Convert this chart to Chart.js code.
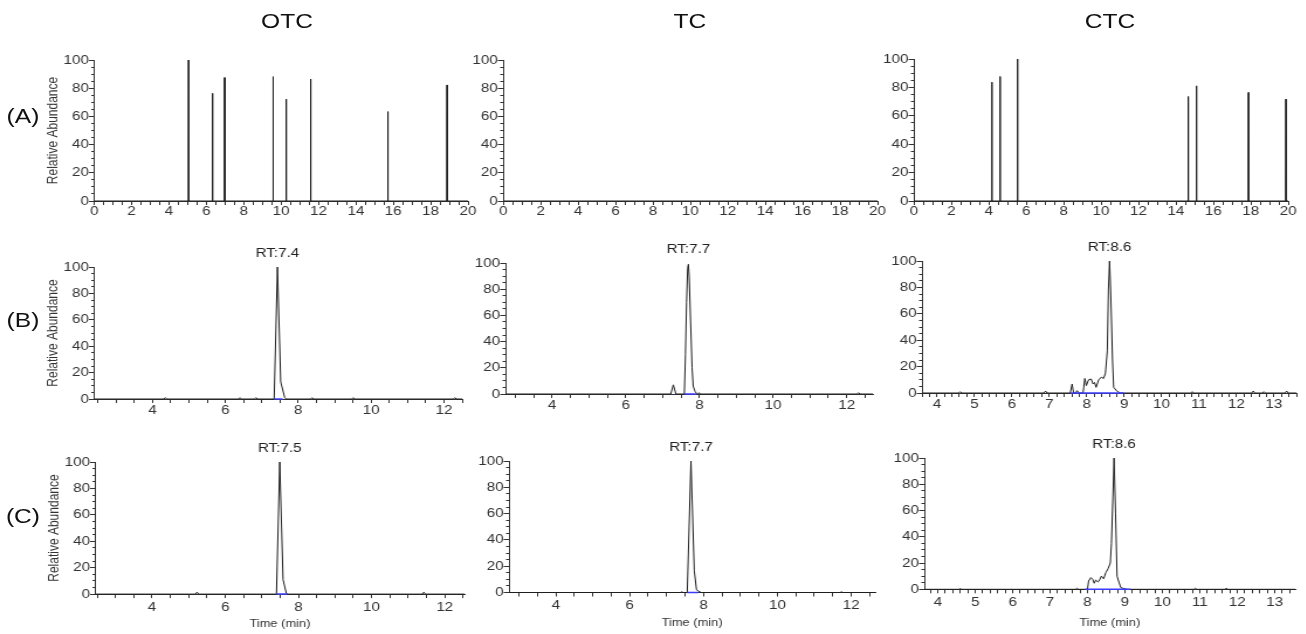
<!doctype html>
<html lang="en">
<head>
<meta charset="utf-8">
<title>OTC / TC / CTC chromatograms</title>
<script src="https://cdn.jsdelivr.net/npm/chart.js/dist/chart.umd.min.js"></script>
<style>
  html, body { margin: 0; background: #fff; }
  /* the source figure is a little wider than tall in its lettering, so the page is stretched */
  #page {
    position: relative; width: 1117px; height: 634px;
    transform: scaleX(1.17); transform-origin: 0 0;
    font-family: "Liberation Sans", Arial, sans-serif; color: #111;
  }
  .lbl { position: absolute; transform: translate(-50%, -50%); white-space: nowrap; font-size: 21px; }
  canvas { position: absolute; }
</style>
</head>
<body>
<div id="page"></div>
<script>
// ---------- data ----------
const columns = ['OTC', 'TC', 'CTC'];
const rows = ['(A)', '(B)', '(C)'];

// (A) full-scan peaks: apex time (min) and relative abundance
const otcScanRt = [5.05, 6.33, 6.98, 9.57, 10.27, 11.58, 15.71, 18.88];
const otcScanAb = [100, 76.4, 87.5, 88.2, 72.3, 86.5, 63.4, 82.3];
const tcScanRt = [];
const tcScanAb = [];
const ctcScanRt = [4.17, 4.61, 5.54, 14.66, 15.10, 17.88, 19.88];
const ctcScanAb = [83.7, 87.7, 100, 73.6, 81.1, 76.4, 71.7];

// (B) chromatograms
const otcB_t  = [2.40, 4.31, 4.35, 4.39, 6.36, 6.40, 6.44, 6.80, 6.84, 6.88, 7.34, 7.43, 7.52, 7.63, 7.67, 8.34, 8.38, 8.42, 9.47, 9.51, 9.55, 12.26, 12.30, 12.34, 12.50];
const otcB_ab = [0, 0, 1, 0, 0, 1, 0, 0, 1, 0, 0, 100, 12.9, 1, 0, 0, 1, 0, 0, 1, 0, 0, 1, 0, 0];
const tcB_t   = [2.73, 7.22, 7.29, 7.36, 7.59, 7.62, 7.65, 7.68, 7.70, 7.72, 7.76, 7.80, 7.83, 7.88, 7.92, 7.96, 7.99, 8.02, 12.28, 12.32, 12.36, 12.71];
const tcB_ab  = [0, 0, 7, 0, 0, 30, 70, 96, 99, 90, 55, 20, 6, 2, 0.5, 0, 1, 0, 0, 1, 0, 0];
const ctcB_t  = [3.60, 4.58, 4.62, 4.66, 6.86, 6.90, 6.94, 7.56, 7.61, 7.65, 7.70, 7.74, 7.80, 7.90, 7.92, 7.95, 7.99, 8.05, 8.12, 8.17, 8.21, 8.25, 8.32, 8.39, 8.45, 8.50, 8.55, 8.58, 8.61, 8.64, 8.69, 8.72, 8.81, 8.90, 10.78, 10.82, 10.86, 12.41, 12.45, 12.49, 12.69, 12.73, 12.77, 13.30, 13.34, 13.38, 13.60];
const ctcB_ab = [0, 0, 1, 0, 0, 1.5, 0, 0, 6.8, 0, 0, 1.8, 0, 0, 4, 11, 5.6, 10, 10.6, 6.8, 8, 4.3, 10, 12, 11, 15, 32, 78, 100, 78, 25, 4.3, 1.3, 0, 0, 1, 0, 0, 1.5, 0, 0, 1, 0, 0, 1.5, 0, 0];

// (C) chromatograms
const otcC_t  = [2.45, 5.19, 5.23, 5.27, 7.40, 7.49, 7.58, 7.67, 7.71, 11.39, 11.43, 11.47, 12.54];
const otcC_ab = [0, 0, 1.5, 0, 0, 100, 11, 0.5, 0, 0, 1.5, 0, 0];
const tcC_t   = [2.73, 7.37, 7.41, 7.45, 7.56, 7.66, 7.75, 7.81, 7.90, 7.94, 11.70, 11.74, 11.78, 12.65];
const tcC_ab  = [0, 0, 0.5, 0, 0, 100, 16.5, 2, 0.5, 0, 0, 0.5, 0, 0];
const ctcC_t  = [3.64, 4.56, 4.60, 4.64, 7.68, 7.72, 7.76, 8.00, 8.03, 8.09, 8.14, 8.18, 8.22, 8.28, 8.32, 8.37, 8.43, 8.49, 8.55, 8.61, 8.64, 8.68, 8.71, 8.75, 8.79, 8.83, 8.89, 8.98, 9.05, 10.84, 10.88, 10.92, 11.67, 11.71, 11.75, 13.55];
const ctcC_ab = [0, 0, 0.5, 0, 0, 0.8, 0, 0, 6.3, 8.9, 7.6, 4.6, 7, 5.6, 7, 10, 8, 12.7, 15.7, 20, 35, 71, 100, 58, 10, 6.3, 1.3, 0.5, 0, 0, 0.8, 0, 0, 0.8, 0, 0];

// integration baselines (start, end) and retention-time labels, rows B and C
const baseLines = [[7.34, 7.57], [7.59, 7.92], [7.56, 8.99], [7.40, 7.69], [7.56, 7.85], [7.94, 9.14]];
const rtTimes = [7.43, 7.70, 8.61, 7.49, 7.66, 8.71];
const rtLabels = ['RT:7.4', 'RT:7.7', 'RT:8.6', 'RT:7.5', 'RT:7.7', 'RT:8.6'];

// time axis ranges (min) per panel, row by row
const timeRanges = [[0, 20], [0, 20], [0, 20], [2.40, 12.50], [2.73, 12.71], [3.60, 13.60], [2.45, 12.54], [2.73, 12.65], [3.64, 13.55]];

// ---------- helpers ----------
function spikeTrace(rt, ab, range) {
  const pts = [{ x: range[0], y: 0 }];
  rt.forEach((t, i) => pts.push({ x: t - 0.012, y: 0 }, { x: t, y: ab[i] }, { x: t + 0.012, y: 0 }));
  pts.push({ x: range[1], y: 0 });
  return pts;
}
function zip(t, ab) { return t.map((v, i) => ({ x: v, y: ab[i] })); }
function isMajor(v, step) { const q = v / step; return Math.abs(q - Math.round(q)) < 1e-6; }

const traces = [
  spikeTrace(otcScanRt, otcScanAb, timeRanges[0]),
  spikeTrace(tcScanRt, tcScanAb, timeRanges[1]),
  spikeTrace(ctcScanRt, ctcScanAb, timeRanges[2]),
  zip(otcB_t, otcB_ab), zip(tcB_t, tcB_ab), zip(ctcB_t, ctcB_ab),
  zip(otcC_t, otcC_ab), zip(tcC_t, tcC_ab), zip(ctcC_t, ctcC_ab)
];

// plot-area boxes in page pixels [left, top, right, bottom]
const boxes = [
  [94.3, 60, 468.5, 201], [503.3, 60, 877.3, 201], [913.3, 59, 1288, 201],
  [94.3, 267, 462, 399], [505.7, 263, 872.7, 394], [921.7, 260.7, 1296, 392.3],
  [95, 461.7, 464, 593.3], [509, 460.7, 875, 591.7], [924.3, 458.3, 1295, 590]
];
const xTitleY = [623, 622, 623.5];
const xLabelPad = [-1, 0, 1.5];

const SX = 1.17;
const FONT = '"Liberation Sans", Arial, sans-serif';
const INK = '#333';
const page = document.getElementById('page');

function addText(txt, x, y, size) {
  const d = document.createElement('div');
  d.className = 'lbl';
  d.textContent = txt;
  d.style.left = (x / SX) + 'px';
  d.style.top = y + 'px';
  d.style.fontSize = size + 'px';
  page.appendChild(d);
}
[[287, 21], [690, 21], [1110, 21]].forEach((p, i) => addText(columns[i], p[0], p[1], 21));
[[23, 116], [23, 320], [23, 516]].forEach((p, i) => addText(rows[i], p[0], p[1], 21));

const rtLabel = {
  id: 'rtLabel',
  afterDatasetsDraw(chart, args, o) {
    if (!o.text) return;
    const { ctx, scales } = chart;
    ctx.save();
    ctx.font = '13px ' + FONT;
    ctx.fillStyle = '#222';
    ctx.textAlign = 'center';
    ctx.textBaseline = 'middle';
    ctx.fillText(o.text, scales.x.getPixelForValue(o.rt), scales.y.getPixelForValue(100) - 13.5);
    ctx.restore();
  }
};

function drawPanel(i) {
  const row = Math.floor(i / 3), col = i % 3;
  const range = timeRanges[i];
  const minor = col === 2 && row > 0 ? 0.2 : 0.5;
  const major = col === 2 && row > 0 ? 1 : 2;
  const wy = col === 0 ? 42.5 : 34;
  const b = boxes[i];
  const hx = row === 2 ? xTitleY[col] - b[3] + 7.2 : 21;
  const padTop = 24, padRight = 12;
  const L = b[0] / SX, R = b[2] / SX;

  const cv = document.createElement('canvas');
  cv.width = Math.round(wy + R - L + padRight);
  cv.height = Math.round(padTop + b[3] - b[1] + hx);
  cv.style.left = (L - wy) + 'px';
  cv.style.top = (b[1] - padTop) + 'px';
  page.appendChild(cv);

  const datasets = [{
    data: traces[i], borderColor: '#1e1e1e', borderWidth: 1, pointRadius: 0,
    tension: 0, clip: 4, order: 1, xAxisID: 'x', yAxisID: 'y'
  }];
  if (row > 0) {
    const bl = baseLines[i - 3];
    datasets.push({
      data: [{ x: bl[0], y: 0 }, { x: bl[1], y: 0 }], borderColor: '#3c3cff', borderWidth: 1.5,
      pointRadius: 0, clip: 4, order: 0, xAxisID: 'x', yAxisID: 'y'
    });
  }

  new Chart(cv, {
    type: 'line',
    data: { datasets },
    plugins: [rtLabel],
    options: {
      responsive: false,
      animation: false,
      events: [],
      layout: { padding: { top: padTop, right: padRight, left: 0, bottom: 0 } },
      plugins: {
        legend: { display: false },
        tooltip: { enabled: false },
        rtLabel: row > 0 ? { text: rtLabels[i - 3], rt: rtTimes[i - 3] } : {}
      },
      scales: {
        x: {
          type: 'linear', position: 'bottom', min: range[0], max: range[1], weight: 1,
          ticks: {
            stepSize: minor, includeBounds: false, autoSkip: false, maxRotation: 0, minRotation: 0,
            padding: xLabelPad[row], color: INK, font: { family: FONT, size: 13 },
            callback: v => isMajor(v, major) ? String(Math.round(v)) : ''
          },
          grid: { drawOnChartArea: false, tickLength: 4, tickColor: INK },
          border: { color: INK },
          title: { display: row === 2, text: 'Time (min)', color: INK, font: { family: FONT, size: 11 }, padding: 0 },
          afterFit: s => { s.height = hx; }
        },
        y: {
          type: 'linear', position: 'left', min: 0, max: 100, weight: 1,
          ticks: { stepSize: 20, includeBounds: false, padding: 0, color: INK, font: { family: FONT, size: 13 } },
          grid: { drawOnChartArea: false, tickLength: 4.5, tickColor: INK },
          border: { color: INK },
          title: { display: col === 0, text: 'Relative Abundance', color: INK, font: { family: FONT, size: 12 }, padding: 0 },
          afterFit: s => { s.width = wy; }
        },
        yMinor: {
          type: 'linear', axis: 'y', position: 'left', min: 0, max: 100, weight: 0,
          ticks: { stepSize: 5, display: false },
          grid: { drawOnChartArea: false, tickLength: 2.5, tickColor: INK },
          border: { color: INK },
          afterFit: s => { s.width = 0; }
        }
      }
    }
  });
}

for (let i = 0; i < 9; i++) drawPanel(i);
</script>
</body>
</html>
